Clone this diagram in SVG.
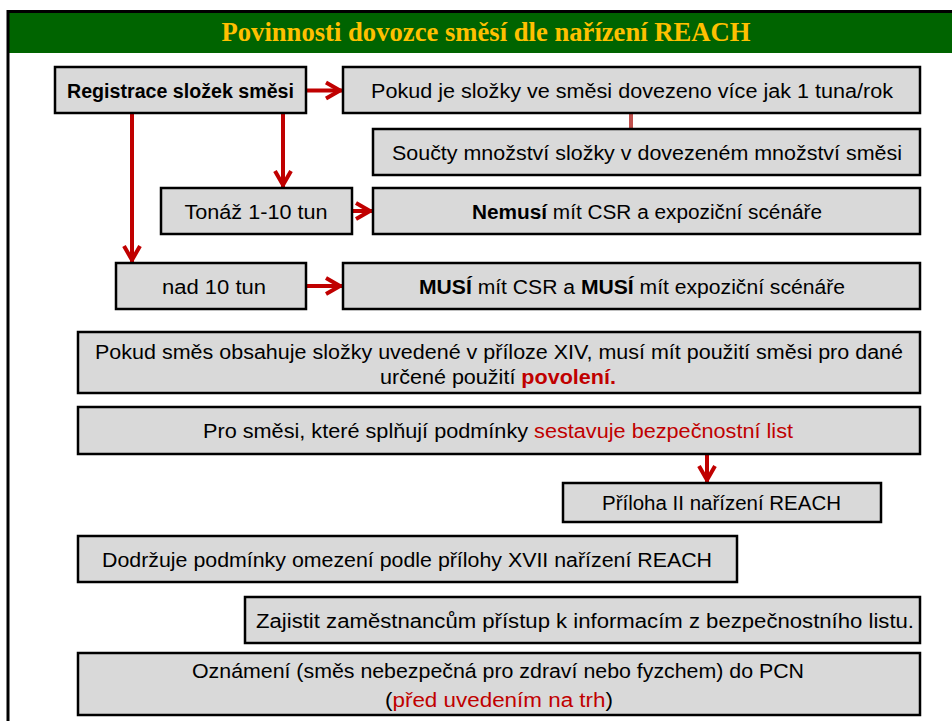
<svg xmlns="http://www.w3.org/2000/svg" width="952" height="721" viewBox="0 0 952 721">
<defs>
<style>
.box{fill:#D9D9D9;stroke:#000;stroke-width:2.5}
.t{font-family:"Liberation Sans",Arial,sans-serif;font-size:20px;fill:#000;text-anchor:middle}
.b{font-weight:bold}
.r{fill:#C00000}
.con{fill:none;stroke:#C00000;stroke-width:4}
</style>
<marker id="arr" viewBox="0 0 24 24" refX="21" refY="12" markerWidth="24" markerHeight="24" markerUnits="userSpaceOnUse" orient="auto">
<path d="M4,4 L18,12 L4,20" fill="none" stroke="#C00000" stroke-width="4"/>
</marker>
</defs>
<rect x="0" y="0" width="952" height="721" fill="#fff"/>
<g id="header">
<rect x="7" y="10" width="945" height="3.5" fill="#000"/>
<rect x="9" y="13" width="943" height="40" fill="#006400"/>
<rect x="6.5" y="10" width="3" height="711" fill="#000"/>
<text x="486" y="41" font-family="'Liberation Serif','Times New Roman',serif" font-size="26.5" font-weight="bold" fill="#FFC000" text-anchor="middle" textLength="529" lengthAdjust="spacingAndGlyphs">Povinnosti dovozce směsí dle nařízení REACH</text>
</g>
<g id="connectors">
<path class="con" d="M306,90.5 H343" marker-end="url(#arr)"/>
<path class="con" d="M352,211 H373" marker-end="url(#arr)"/>
<path class="con" d="M306,286 H343" marker-end="url(#arr)"/>
<path class="con" d="M132,113 V263" marker-end="url(#arr)"/>
<path class="con" d="M283,113 V188" marker-end="url(#arr)"/>
<path class="con" d="M707,454 V483" marker-end="url(#arr)"/>
<path d="M631,113 V129" fill="none" stroke="#C0504D" stroke-width="4"/>
</g>
<g id="n-registrace">
<rect class="box" x="55" y="67" width="251" height="46"/>
<text class="t b" x="180.5" y="98" textLength="227" lengthAdjust="spacingAndGlyphs">Registrace složek směsi</text>
</g>
<g id="n-pokud">
<rect class="box" x="343" y="67" width="577" height="46"/>
<text class="t" x="632" y="98" textLength="522" lengthAdjust="spacingAndGlyphs">Pokud je složky ve směsi dovezeno více jak 1 tuna/rok</text>
</g>
<g id="n-soucty">
<rect class="box" x="373" y="129" width="547" height="46"/>
<text class="t" x="647" y="159.5" textLength="510" lengthAdjust="spacingAndGlyphs">Součty množství složky v dovezeném množství směsi</text>
</g>
<g id="n-tonaz">
<rect class="box" x="161" y="188" width="191" height="46"/>
<text class="t" x="256" y="218.5" textLength="143" lengthAdjust="spacingAndGlyphs">Tonáž 1-10 tun</text>
</g>
<g id="n-nemusi">
<rect class="box" x="373" y="188" width="547" height="46"/>
<text class="t" x="647" y="218.5" textLength="350" lengthAdjust="spacingAndGlyphs"><tspan class="b">Nemusí</tspan> mít CSR a expoziční scénáře</text>
</g>
<g id="n-nad10">
<rect class="box" x="116" y="263" width="190" height="46"/>
<text class="t" x="214" y="294" textLength="104" lengthAdjust="spacingAndGlyphs">nad 10 tun</text>
</g>
<g id="n-musi">
<rect class="box" x="343" y="263" width="577" height="46"/>
<text class="t" x="632" y="294" textLength="426" lengthAdjust="spacingAndGlyphs"><tspan class="b">MUSÍ</tspan> mít CSR a <tspan class="b">MUSÍ</tspan> mít expoziční scénáře</text>
</g>
<g id="n-povoleni">
<rect class="box" x="78" y="332" width="842" height="61"/>
<text class="t" x="499" y="359" textLength="808" lengthAdjust="spacingAndGlyphs">Pokud směs obsahuje složky uvedené v příloze XIV, musí mít použití směsi pro dané</text>
<text class="t" x="498" y="384" textLength="236" lengthAdjust="spacingAndGlyphs">určené použití <tspan class="b r">povolení.</tspan></text>
</g>
<g id="n-bl">
<rect class="box" x="78" y="407" width="842" height="47"/>
<text class="t" x="498" y="438" textLength="590" lengthAdjust="spacingAndGlyphs">Pro směsi, které splňují podmínky <tspan class="r">sestavuje bezpečnostní list</tspan></text>
</g>
<g id="n-priloha">
<rect class="box" x="563" y="483" width="318" height="39"/>
<text class="t" x="721.5" y="510" textLength="239" lengthAdjust="spacingAndGlyphs">Příloha II nařízení REACH</text>
</g>
<g id="n-omezeni">
<rect class="box" x="78" y="536" width="659" height="46"/>
<text class="t" x="407" y="566.5" textLength="610" lengthAdjust="spacingAndGlyphs">Dodržuje podmínky omezení podle přílohy XVII nařízení REACH</text>
</g>
<g id="n-zamestnanci">
<rect class="box" x="245" y="597" width="675" height="46"/>
<text class="t" x="585" y="628" textLength="658" lengthAdjust="spacingAndGlyphs">Zajistit zaměstnancům přístup k informacím z bezpečnostního listu.</text>
</g>
<g id="n-pcn">
<rect class="box" x="78" y="653" width="842" height="62"/>
<text class="t" x="498" y="678" textLength="612" lengthAdjust="spacingAndGlyphs">Oznámení (směs nebezpečná pro zdraví nebo fyzchem) do PCN</text>
<text class="t" x="499" y="706.5" textLength="228" lengthAdjust="spacingAndGlyphs">(<tspan class="r">před uvedením na trh</tspan>)</text>
</g>
</svg>
